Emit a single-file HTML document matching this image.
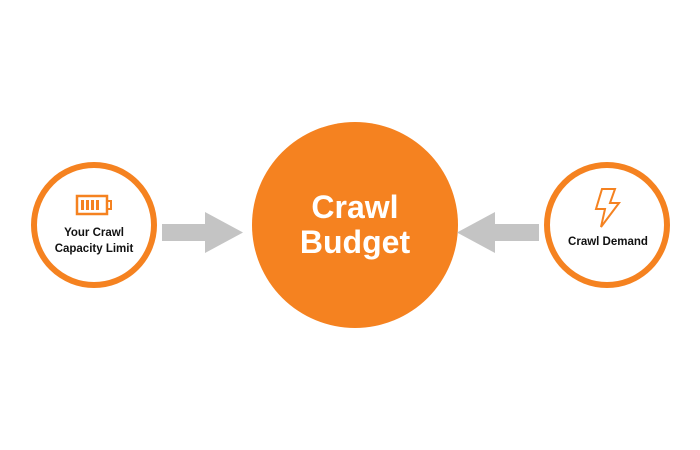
<!DOCTYPE html>
<html><head><style>
body{margin:0;background:#fff;}
svg{display:block;font-family:"Liberation Sans",sans-serif;}
</style></head><body>
<svg width="700" height="450" viewBox="0 0 700 450">
<rect width="700" height="450" fill="#fff"/>
<circle cx="94" cy="225" r="60" fill="#fff" stroke="#f58220" stroke-width="6"/>
<circle cx="607" cy="225" r="60" fill="#fff" stroke="#f58220" stroke-width="6"/>
<circle cx="355" cy="225" r="103" fill="#f58220"/>
<polygon points="162,224 205,224 205,212 243,232.5 205,253 205,241 162,241" fill="#c4c4c4"/>
<polygon points="539,224 495,224 495,212 457,232.5 495,253 495,241 539,241" fill="#c4c4c4"/>
<!-- battery -->
<rect x="77" y="196" width="30" height="18" fill="none" stroke="#f58220" stroke-width="2.5"/>
<rect x="107" y="201" width="4" height="8" fill="none" stroke="#f58220" stroke-width="2"/>
<rect x="81" y="200" width="3" height="10" fill="#f58220"/>
<rect x="86" y="200" width="3" height="10" fill="#f58220"/>
<rect x="91" y="200" width="3" height="10" fill="#f58220"/>
<rect x="96" y="200" width="3" height="10" fill="#f58220"/>
<text x="94" y="236" font-size="11.5" font-weight="bold" text-anchor="middle" fill="#111">Your Crawl</text>
<text x="94" y="252" font-size="11.5" font-weight="bold" text-anchor="middle" fill="#111">Capacity Limit</text>
<!-- lightning -->
<polygon points="602,189 615,189 610,203 619,203 601,227 605,209 596,209" fill="none" stroke="#f58220" stroke-width="2" stroke-linejoin="miter"/>
<text x="608" y="245" font-size="11.5" font-weight="bold" text-anchor="middle" fill="#111">Crawl Demand</text>
<text x="355" y="218" font-size="32" font-weight="bold" text-anchor="middle" fill="#fff">Crawl</text>
<text x="355" y="253" font-size="32" font-weight="bold" text-anchor="middle" fill="#fff">Budget</text>
</svg>
</body></html>
